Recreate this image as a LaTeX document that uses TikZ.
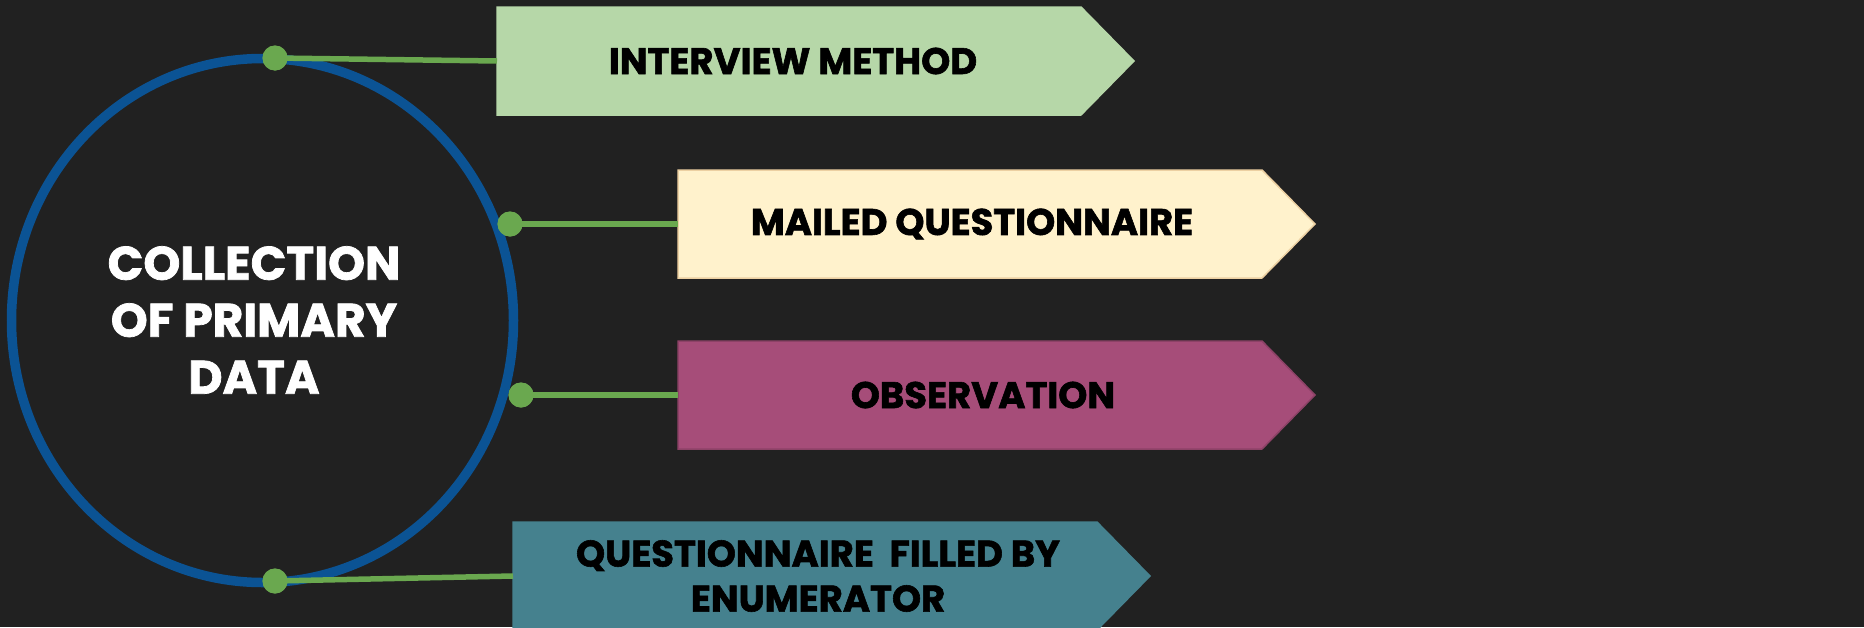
\documentclass[tikz,border=0pt]{standalone}
\usepackage{fontspec}
\setmainfont{Poppins}[BoldFeatures={FakeBold=1.6}]
\usetikzlibrary{shapes.geometric}

\definecolor{bg}{HTML}{212121}
\definecolor{ringblue}{HTML}{0B5394}
\definecolor{linkgreen}{HTML}{6AA84F}
\definecolor{boxgreen}{HTML}{B6D7A8}
\definecolor{boxcream}{HTML}{FFF2CC}
\definecolor{boxplum}{HTML}{A64D79}
\definecolor{boxteal}{HTML}{45818E}

\tikzset{
  ring/.style={ellipse, draw=ringblue, line width=9.5pt, minimum width=502pt,
    minimum height=524pt, inner sep=0pt},
  dot/.style={circle, fill=linkgreen, minimum size=25pt, inner sep=0pt},
  link/.style={draw=linkgreen, line width=5.5pt},
  tagbox/.style={rectangle, minimum width=584pt, minimum height=108pt,
    inner sep=0pt, outer sep=0pt},
  hubtext/.style={text=white, font=\fontsize{47}{57}\selectfont\bfseries,
    align=center},
  tagtext/.style={text=black, font=\fontsize{37}{45}\selectfont\bfseries,
    align=center},
}

% arrow tag: a rectangle node with a pointed right end
\newcommand{\arrowtag}[5]{% name, centre x, centre y, colour, outline
  \node[tagbox, fill=#4] (#1) at (#2,#3) {};
  \fill[#4] (#1.north east) -- ++(53,54) -- (#1.south east) -- cycle;
  \draw[#5, line width=1.5pt] (#1.south east) -- (#1.south west) -- (#1.north west)
    -- (#1.north east) -- ++(53,54) -- (#1.south east);
}

\begin{document}
\begin{tikzpicture}[x=1pt, y=-1pt]
  \fill[bg] (0,0) rectangle (1864,627);
  \useasboundingbox (0,0) rectangle (1864,627);
  \clip (0,0) rectangle (1864,627);

  % central ring
  \node[ring] (hub) at (262.5,320.5) {};
  \node[hubtext] (hubt) at (254,320) {COLLECTION\\OF PRIMARY\\DATA};

  % tags
  \arrowtag{b1}{789}{61}{boxgreen}{boxgreen}
  \arrowtag{b2}{970}{224}{boxcream}{boxcream!70!brown}
  \arrowtag{b3}{970}{395}{boxplum}{boxplum!85!black}
  \arrowtag{b4}{805}{576}{boxteal}{boxteal}

  \node[tagtext] (t1) at (793,61) {INTERVIEW METHOD};
  \node[tagtext] (t2) at (972,224) {MAILED QUESTIONNAIRE};
  \node[tagtext] (t3) at (983,395) {OBSERVATION};
  \node[tagtext] (t4) at (818,576) {QUESTIONNAIRE\ \ FILLED BY\\ENUMERATOR};

  % connectors
  \node[dot] (d1) at (275,58) {};
  \node[dot] (d2) at (510,224) {};
  \node[dot] (d3) at (521,395) {};
  \node[dot] (d4) at (275,581) {};

  \draw[link] (d1.center) -- (b1.west);
  \draw[link] (d2.center) -- (b2.west);
  \draw[link] (d3.center) -- (b3.west);
  \draw[link] (d4.center) -- (b4.west);
  \foreach \d in {d1,d2,d3,d4} \fill[linkgreen] (\d) circle (12.5pt);
\end{tikzpicture}
\end{document}
